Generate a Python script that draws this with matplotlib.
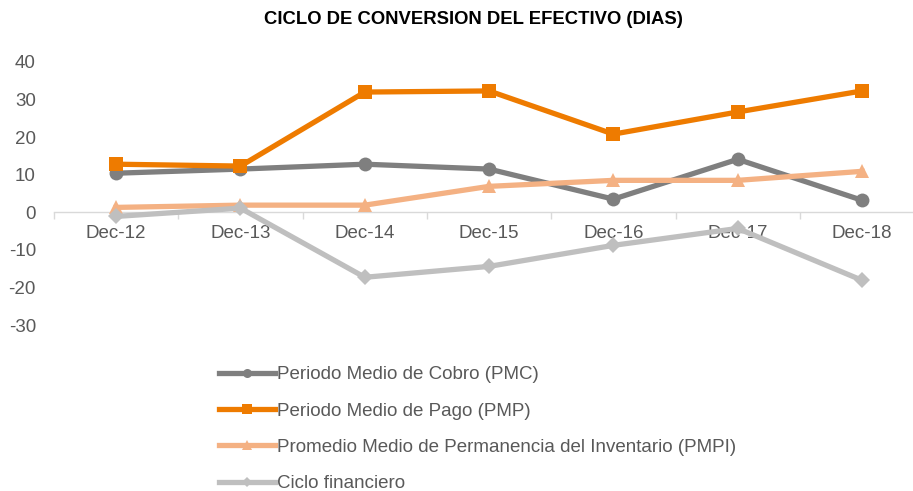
import matplotlib
matplotlib.use("Agg")
import matplotlib.pyplot as plt
from matplotlib.lines import Line2D
import numpy as np

periods = ["Dec-12", "Dec-13", "Dec-14", "Dec-15", "Dec-16", "Dec-17", "Dec-18"]
pmc = [10.4, 11.5, 12.8, 11.5, 3.5, 14.1, 3.2]
pmp = [12.8, 12.3, 32.0, 32.3, 20.8, 26.7, 32.3]
pmpi = [1.3, 1.9, 1.9, 6.9, 8.5, 8.5, 10.9]
ciclo = [-1.1, 1.1, -17.3, -14.4, -8.8, -4.3, -18.1]
yticks = [-30, -20, -10, 0, 10, 20, 30, 40]

series = [
    ("Periodo Medio de Cobro (PMC)", pmc, "#7f7f7f", "o", 10),
    ("Periodo Medio de Pago (PMP)", pmp, "#ee7b00", "s", 10),
    ("Promedio Medio de Permanencia del Inventario (PMPI)", pmpi, "#f4b183", "^", 10),
    ("Ciclo financiero", ciclo, "#bfbfbf", "D", 8),
]

plt.rcParams["font.family"] = ["Liberation Sans", "DejaVu Sans"]
plt.rcParams["axes.unicode_minus"] = False
text_color = "#595959"

W, H = 913, 491
fig = plt.figure(figsize=(W / 100, H / 100), dpi=100)
left = 54 / W
ax = fig.add_axes([left, 1 - 325 / H, 1 - left, (325 - 62) / H])

x = np.arange(len(periods))
for name, vals, color, marker, ms in series:
    ax.plot(x, vals, color=color, lw=3.8, marker=marker, markersize=ms,
            markeredgewidth=0, label=name, solid_joinstyle="round", zorder=3)

ax.set_ylim(-30, 40)
ax.set_yticks(yticks)
ax.set_xlim(-0.5, 6.41)
ax.set_xticks(x)
ax.set_xticklabels(periods)
ax.set_xticks(np.arange(-0.5, 6.5, 1.0), minor=True)

for side in ("top", "right", "left"):
    ax.spines[side].set_visible(False)
ax.spines["bottom"].set_position(("data", 0))
ax.spines["bottom"].set_color("#d9d9d9")
ax.spines["bottom"].set_linewidth(1.0)
ax.spines["bottom"].set_zorder(1)

ax.tick_params(axis="x", which="major", length=0, pad=9, labelsize=13.5,
               labelcolor=text_color)
ax.tick_params(axis="x", which="minor", length=5, width=1.0, color="#d9d9d9",
               direction="out")
ax.tick_params(axis="y", length=0, pad=13, labelsize=13.5, labelcolor=text_color)

fig.text(473 / W, 1 - 20 / H, "CICLO DE CONVERSION DEL EFECTIVO (DIAS)",
         ha="center", va="center", fontsize=13.3, fontweight="bold", color="black")

handles = [Line2D([0], [0], color=c, lw=3.8, marker=m, markersize=ms * 0.65,
                  markeredgewidth=0) for _, _, c, m, ms in series]
labels = [s[0] for s in series]
fig.legend(handles, labels, loc="upper left", bbox_to_anchor=(219 / W, 1 - 366 / H),
           frameon=False, fontsize=13.5, handlelength=3.0, handletextpad=0.1,
           labelspacing=1.03, labelcolor=text_color, borderaxespad=0,
           borderpad=0)

fig.savefig("out.png", dpi=100)
